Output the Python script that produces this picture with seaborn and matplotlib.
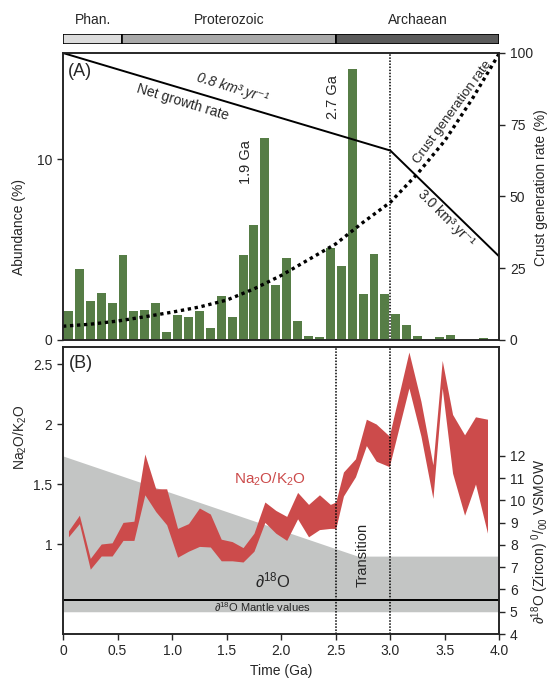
import numpy as np
import pandas as pd
import matplotlib
matplotlib.use("Agg")
import matplotlib.pyplot as plt
import seaborn as sns

sns.set_style("ticks")
plt.rcParams["font.family"] = ["Liberation Sans", "DejaVu Sans"]
plt.rcParams["mathtext.fontset"] = "custom"
plt.rcParams["mathtext.rm"] = "Liberation Sans"
plt.rcParams["mathtext.it"] = "Liberation Sans:italic"
plt.rcParams["font.size"] = 10

# eons along the top bar (Ga)
eon_names = ["Phan.", "Proterozoic", "Archaean"]
eon_start = [0.0, 0.541, 2.5]
eon_end = [0.541, 2.5, 4.0]
eon_colors = ["#dcdcdc", "#a9a9a9", "#5b5b5b"]

# (A) abundance of crystallisation ages, 0.1 Ga bins
age_mid = [0.05, 0.15, 0.25, 0.35, 0.45, 0.55, 0.65, 0.75, 0.85, 0.95,
           1.05, 1.15, 1.25, 1.35, 1.45, 1.55, 1.65, 1.75, 1.85, 1.95,
           2.05, 2.15, 2.25, 2.35, 2.45, 2.55, 2.65, 2.75, 2.85, 2.95,
           3.05, 3.15, 3.25, 3.35, 3.45, 3.55, 3.65, 3.75, 3.85, 3.95]
abundance = [1.6, 3.9, 2.15, 2.6, 2.05, 4.7, 1.6, 1.65, 2.05, 0.45,
             1.4, 1.25, 1.6, 0.65, 2.45, 1.25, 4.7, 6.35, 11.15, 3.05,
             4.55, 1.05, 0.2, 0.15, 5.1, 4.1, 14.95, 2.55, 4.75, 2.55,
             1.45, 0.85, 0.2, 0.0, 0.15, 0.3, 0.0, 0.0, 0.1, 0.0]

# crust generation rate (%) - dotted curve
crust_age = [0.0, 0.25, 0.5, 0.75, 1.0, 1.25, 1.5, 1.75, 2.0, 2.25,
             2.5, 2.75, 3.0, 3.25, 3.5, 3.75, 4.0]
crust_rate = [4.8, 5.5, 6.6, 8.1, 9.7, 11.5, 13.9, 17.8, 22.5, 28.0,
              33.5, 41.0, 48.0, 58.0, 69.5, 84.0, 100.0]

# net growth rate line (right axis units)
growth_age = [0.0, 3.0, 4.0]
growth_rate = [100.0, 66.0, 29.0]

# (B) Na2O/K2O envelope
na_age = [0.05, 0.15, 0.25, 0.35, 0.45, 0.55, 0.65, 0.75, 0.85, 0.95,
          1.05, 1.15, 1.25, 1.35, 1.45, 1.55, 1.65, 1.75, 1.85, 1.95,
          2.05, 2.15, 2.25, 2.35, 2.45, 2.5, 2.57, 2.68, 2.78, 2.87,
          2.99, 3.17, 3.28, 3.39, 3.475, 3.57, 3.68, 3.78, 3.89]
na_high = [1.11, 1.24, 0.88, 1.00, 1.01, 1.18, 1.19, 1.75, 1.46, 1.46,
           1.13, 1.17, 1.30, 1.25, 1.04, 1.02, 0.97, 1.09, 1.35, 1.28,
           1.23, 1.43, 1.33, 1.41, 1.33, 1.35, 1.60, 1.71, 2.04, 2.00,
           1.90, 2.60, 2.19, 1.66, 2.53, 2.08, 1.91, 2.06, 2.04]
na_low = [1.06, 1.17, 0.79, 0.90, 0.90, 1.03, 1.03, 1.41, 1.27, 1.16,
          0.89, 0.94, 0.98, 0.975, 0.86, 0.86, 0.85, 0.94, 1.18, 1.09,
          1.03, 1.21, 1.06, 1.12, 1.13, 1.13, 1.40, 1.56, 1.82, 1.69,
          1.645, 2.30, 1.90, 1.38, 2.30, 1.59, 1.24, 1.50, 1.09]

# d18O (zircon) envelope and mantle values
d18o_age = [0.0, 2.7, 4.0]
d18o_top = [12.0, 7.5, 7.5]
mantle_low = 5.0
mantle_line = 5.55

time_ticks = [0, 0.5, 1.0, 1.5, 2.0, 2.5, 3.0, 3.5, 4.0]
time_labels = ["0", "0.5", "1.0", "1.5", "2.0", "2.5", "3.0", "3.5", "4.0"]
na_ticks = [1, 1.5, 2, 2.5]
na_labels = ["1", "1.5", "2", "2.5"]

green = "#567d46"
red = "#cc4b4b"
grey = "#c3c5c4"

W, H = 550, 684
fig = plt.figure(figsize=(W / 100, H / 100), dpi=100)


def box(x0, x1, ytop, ybot):
    return [x0 / W, 1 - ybot / H, (x1 - x0) / W, (ybot - ytop) / H]


ax_t = fig.add_axes(box(63, 499.5, 33.5, 43.5))
ax_a = fig.add_axes(box(63, 499.5, 53, 340))
ax_b = fig.add_axes(box(63, 499.5, 346.5, 634))

# --- eon bar
for name, s, e, c in zip(eon_names, eon_start, eon_end, eon_colors):
    ax_t.barh(0, e - s, left=s, height=1, color=c, edgecolor="black", linewidth=1.2)
    ax_t.text((s + e) / 2, 2.4, name, ha="center", va="center", fontsize=10,
              transform=ax_t.get_xaxis_transform())
ax_t.set_xlim(0, 4)
ax_t.set_ylim(-0.5, 0.5)
ax_t.axis("off")

# --- panel A
ages = pd.DataFrame({"age": age_mid, "abundance": abundance})
sns.histplot(data=ages, x="age", weights="abundance", bins=40, binrange=(0, 4),
             shrink=0.82, color=green, alpha=1, edgecolor="none", linewidth=0, ax=ax_a)
ax_a.set_xlim(0, 4)
ax_a.set_ylim(0, 15.86)
ax_a.set_yticks([0, 10])
ax_a.set_ylabel("Abundance (%)", fontsize=10)
ax_a.yaxis.set_label_coords(-0.085, 0.395)
ax_a.set_xlabel("")
ax_a.tick_params(axis="x", bottom=False, labelbottom=False)
ax_a.text(1.68, 9.85, "1.9 Ga", rotation=90, ha="center", va="center", fontsize=10.5)
ax_a.text(2.474, 13.44, "2.7 Ga", rotation=90, ha="center", va="center", fontsize=10.5)

ax_a2 = ax_a.twinx()
sns.lineplot(x=crust_age, y=crust_rate, ax=ax_a2, color="black",
             linestyle=(0, (1, 1.1)), linewidth=2.4)
sns.lineplot(x=growth_age, y=growth_rate, ax=ax_a2, color="black", linewidth=1.4)
ax_a2.axvline(3.0, color="black", linestyle=(0, (1, 1)), linewidth=1.1)
ax_a2.set_xlim(0, 4)
ax_a2.set_ylim(0, 100)
ax_a2.set_yticks([0, 25, 50, 75, 100])
ax_a2.set_ylabel("Crust generation rate (%)", fontsize=10)
ax_a2.yaxis.set_label_coords(1.078, 0.531)
ax_a2.text(0.045, 93.4, "(A)", ha="left", va="center", fontsize=13)
ax_a2.text(1.556, 87.8, "0.8 km³.yr⁻¹", rotation=-17, ha="center", va="center",
           fontsize=10, style="italic")
ax_a2.text(1.10, 82.9, "Net growth rate", rotation=-17, ha="center", va="center", fontsize=10)
ax_a2.text(3.57, 79.5, "Crust generation rate", rotation=54, ha="center", va="center",
           fontsize=9.5)
ax_a2.text(3.51, 42.4, "3.0 km³.yr⁻¹", rotation=-45, ha="center", va="center", fontsize=10)

# --- panel B
ax_b2 = ax_b.twinx()
ax_b.set_zorder(ax_b2.get_zorder() + 1)
ax_b.patch.set_visible(False)

ax_b2.fill_between(d18o_age, mantle_low, d18o_top, color=grey, linewidth=0)
ax_b2.axhline(mantle_line, color="black", linewidth=1.4)
ax_b2.set_ylim(4, 16.92)
ax_b2.set_yticks(range(4, 13))
ax_b2.set_ylabel(r"∂$^{18}$O (Zircon) $^{0}/_{00}$ VSMOW", fontsize=10)
ax_b2.yaxis.set_label_coords(1.068, 0.323)

ax_b.fill_between(na_age, na_low, na_high, color=red, linewidth=0)
for t in [2.5, 3.0]:
    ax_b.axvline(t, color="black", linestyle=(0, (1, 1)), linewidth=1.1)
ax_b.set_xlim(0, 4)
ax_b.set_ylim(0.25, 2.646)
ax_b.set_xticks(time_ticks)
ax_b.set_xticklabels(time_labels)
ax_b.set_yticks(na_ticks)
ax_b.set_yticklabels(na_labels)
ax_b.set_xlabel("Time (Ga)", fontsize=10)
ax_b.set_ylabel(r"Na$_2$O/K$_2$O", fontsize=10)
ax_b.yaxis.set_label_coords(-0.078, 0.685)
ax_b.text(0.05, 2.506, "(B)", ha="left", va="center", fontsize=13)
ax_b.text(1.895, 1.54, r"Na$_2$O/K$_2$O", color=red, ha="center", va="center", fontsize=11)
ax_b.text(1.92, 0.694, r"∂$^{18}$O", ha="center", va="center", fontsize=12)
ax_b.text(1.83, 0.4725, r"∂$^{18}$O Mantle values", ha="center", va="center", fontsize=8)
ax_b.text(2.749, 0.908, "Transition", rotation=90, ha="center", va="center", fontsize=10.5)

for ax in [ax_a, ax_a2, ax_b, ax_b2]:
    for sp in ax.spines.values():
        sp.set_visible(True)
        sp.set_linewidth(1.2)
    ax.tick_params(direction="out", length=4, width=1, labelsize=10)

fig.savefig("out.png", dpi=100)
